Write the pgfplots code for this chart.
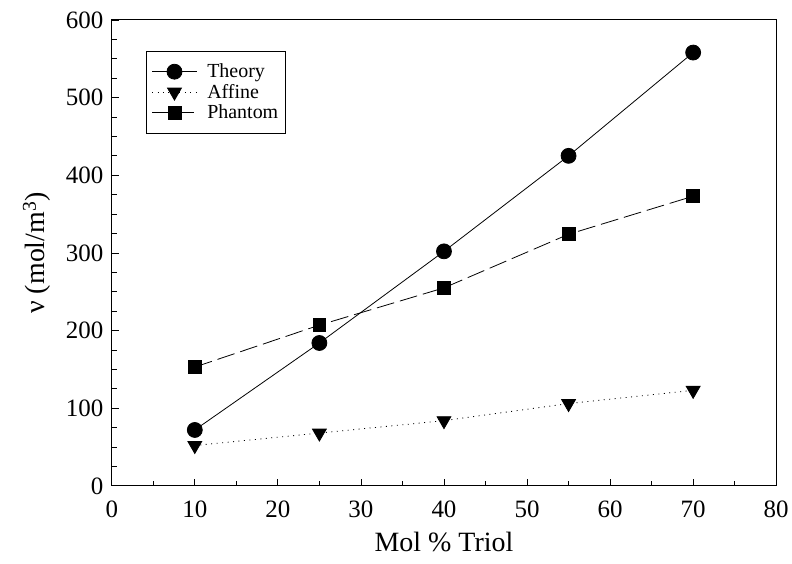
\documentclass[border=0pt]{standalone}
\usepackage{pgfplots}
\pgfplotsset{compat=1.18}
\usepackage{fontspec}
\setmainfont{Liberation Serif}
\begin{document}
\begin{tikzpicture}
\begin{axis}[
  scale only axis,
  width=666pt, height=467pt,
  xmin=0, xmax=80, ymin=0, ymax=600,
  xtick={0,10,...,80}, ytick={0,100,...,600},
  minor x tick num=1, minor y tick num=3,
  tick align=inside, tick pos=left,
  major tick length=7pt, minor tick length=5pt,
  /pgf/number format/assume math mode=true,
  ticklabel style={font=\fontsize{25}{30}\selectfont},
  xticklabel style={yshift=-12pt},
  yticklabel style={xshift=-5pt},
  xlabel={Mol \% Triol},
  ylabel={ν (mol/m\textsuperscript{3})},
  label style={font=\fontsize{28}{33}\selectfont},
  xlabel style={at={(axis description cs:0.5,-0.1413)}, anchor=base},
  ylabel style={at={(axis description cs:-0.1126,0.5)}, anchor=center},
  axis line style={line width=1pt},
  every tick/.style={black, line width=0.8pt},
  legend style={at={(0.052,0.934)}, anchor=north west, font=\fontsize{20}{23}\selectfont,
    draw=black, line width=0.7pt, inner xsep=5pt, inner ysep=11pt, row sep=1pt, cells={anchor=west}},
  legend image code/.code={
    \draw[mark repeat=2, mark phase=2, #1] plot coordinates {(0pt,0pt) (22.5pt,0pt) (45pt,0pt)};
    \path (53pt,0pt);
  },
]
\addplot[black, line width=0.8pt, mark=*, mark size=7.5pt, mark options={solid}]
  coordinates {(10,72) (25,184) (40,302) (55,425) (70,558)};
\addlegendentry{Theory}
\addplot[black, line width=0.8pt, dash pattern=on 1pt off 4.5pt, mark=triangle*, mark size=8pt, mark options={solid, rotate=180}]
  coordinates {(10,52) (25,68) (40,84) (55,106) (70,123)};
\addlegendentry{Affine}
\addplot[black, line width=0.8pt, dash pattern=on 18pt off 6pt, mark=square*, mark size=6.5pt, mark options={solid}]
  coordinates {(10,153) (25,207) (40,255) (55,324) (70,373)};
\addlegendentry{Phantom}
\end{axis}
\path ([shift={(-112pt,-78pt)}]current axis.south west) rectangle ([shift={(14pt,20pt)}]current axis.north east);
\end{tikzpicture}
\end{document}
